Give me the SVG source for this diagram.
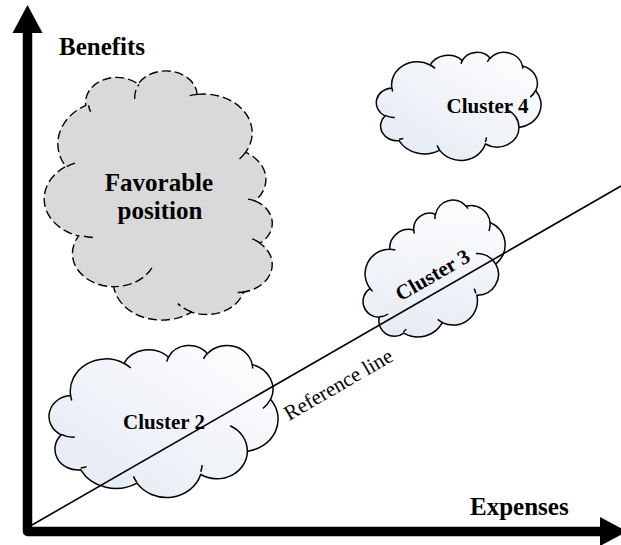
<svg xmlns="http://www.w3.org/2000/svg" xmlns:xlink="http://www.w3.org/1999/xlink" width="621" height="545" viewBox="0 0 621 545">
  <style>
    .txt { font-family: "Liberation Serif", "Times New Roman", serif; fill: #000; }
    .b { font-weight: bold; }
    .lbl { font-size: 25px; }
    .cl { font-size: 21px; }
    .cloud-plain { fill: url(#cg); stroke: #000; stroke-width: 1.5; }
    .cloud-fav { fill: #d9d9d9; stroke: #000; stroke-width: 1.4; stroke-dasharray: 9 4; }
    .axis { fill: none; stroke: #000; stroke-width: 9.5; stroke-linejoin: round; }
    .ref { stroke: #000; stroke-width: 1.6; fill: none; }
  </style>
  <defs>
    <linearGradient id="cg" x1="0" y1="1" x2="1" y2="0">
      <stop offset="0" stop-color="#e3e8f2"/>
      <stop offset="1" stop-color="#ffffff"/>
    </linearGradient>
    <g id="cloud">
      <path vector-effect="non-scaling-stroke" d="M9.03 33.26 A15.63 21.27 0 0 1 32.42 12.04 A12.35 16.82 0 0 1 51.98 7.94 A10.10 13.76 0 0 1 69.06 5.75 A11.24 15.27 0 0 1 88.70 12.91 A12.35 16.84 0 0 1 96.80 35.79 A15.68 21.34 0 0 1 86.58 69.91 A13.39 18.21 0 0 1 66.10 85.21 A15.63 21.33 0 0 1 38.15 90.89 A17.87 24.41 0 0 1 13.44 82.11 A10.09 13.70 0 0 1 4.89 59.14 A10.06 13.76 0 0 1 9.03 33.26 Z"/>
      <path vector-effect="non-scaling-stroke" fill="none" d="M10.86 60.60 A10.06 13.76 0 0 1 5.00 58.75 M16.04 80.00 A10.09 13.70 0 0 1 13.47 80.89 M38.14 90.49 A15.63 21.33 0 0 1 36.60 86.45 M66.73 79.00 A15.63 21.33 0 0 1 66.11 83.42 M79.00 53.13 A13.39 18.21 0 0 1 86.53 69.65 M96.76 35.54 A12.35 16.84 0 0 1 93.40 41.74 M88.71 12.56 A11.24 15.27 0 0 1 88.89 15.49 M67.31 9.15 A11.24 15.27 0 0 1 69.03 5.42 M51.25 10.93 A10.10 13.76 0 0 1 52.08 7.71 M32.41 12.02 A15.63 21.27 0 0 1 35.42 15.15 M9.55 36.55 A15.63 21.27 0 0 1 9.03 33.26"/>
    </g>
  </defs>

  <g id="axes">
    <path class="axis" d="M27.5 30 V531.5 H603"/>
    <polygon points="27.5,5 12.5,33 42.5,33" fill="#000"/>
    <polygon points="627,531.5 600,517 600,546" fill="#000"/>
    <text class="txt b lbl" x="59" y="55">Benefits</text>
    <text class="txt b lbl" x="470" y="515">Expenses</text>
  </g>

  <g id="favorable">
    <use xlink:href="#cloud" href="#cloud" class="cloud-fav" transform="translate(45,72) scale(2.28,2.48) matrix(0 1 -1 0 100 0)"/>
    <text class="txt b lbl" x="159" y="191" text-anchor="middle">Favorable</text>
    <text class="txt b lbl" x="160" y="219" text-anchor="middle">position</text>
  </g>

  <g id="cluster4">
    <use xlink:href="#cloud" href="#cloud" class="cloud-plain" transform="translate(377,52) scale(1.64,1.08)"/>
    <text class="txt b cl" x="487.5" y="113" text-anchor="middle">Cluster 4</text>
  </g>

  <g id="cluster3">
    <use xlink:href="#cloud" href="#cloud" class="cloud-plain" transform="translate(435,273) rotate(-30) translate(-78,-57) scale(1.56,1.14)"/>
  </g>

  <g id="cluster2">
    <use xlink:href="#cloud" href="#cloud" class="cloud-plain" transform="translate(50,345) scale(2.28,1.52)"/>
  </g>

  <g id="connectors">
    <line class="ref" x1="32" y1="525" x2="621" y2="186"/>
    <text class="txt" font-size="21" transform="translate(289,421) rotate(-30)">Reference line</text>
  </g>

  <g id="labels">
    <text class="txt b cl" x="164" y="429" text-anchor="middle">Cluster 2</text>
    <text class="txt b cl" transform="translate(436,273) rotate(-30)" x="-4" y="7" text-anchor="middle">Cluster 3</text>
  </g>
</svg>
